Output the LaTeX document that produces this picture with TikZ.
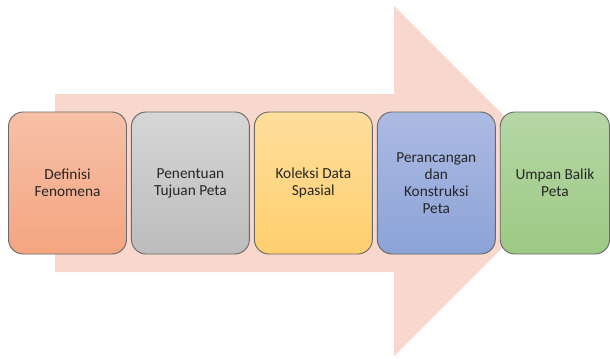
\documentclass[tikz,border=0pt]{standalone}
\usepackage{fontspec}
\setmainfont{Carlito}
\usetikzlibrary{positioning}

\definecolor{arrowpink}{RGB}{248,215,205}
\definecolor{boxline}{RGB}{105,105,105}
\definecolor{orangetop}{RGB}{247,192,168}
\definecolor{orangebot}{RGB}{244,165,128}
\definecolor{graytop}{RGB}{214,214,214}
\definecolor{graybot}{RGB}{188,188,188}
\definecolor{yellowtop}{RGB}{255,222,156}
\definecolor{yellowbot}{RGB}{255,207,110}
\definecolor{bluetop}{RGB}{172,186,226}
\definecolor{bluebot}{RGB}{140,163,216}
\definecolor{greentop}{RGB}{182,215,166}
\definecolor{greenbot}{RGB}{156,201,131}

\tikzset{
	stage/.style={draw=boxline, line width=0.7pt, rounded corners=11pt,
		minimum width=88.5pt, minimum height=106.5pt, inner sep=2pt,
		align=center, text=black!85, font=\fontsize{11.5}{12.9}\selectfont},
}

\begin{document}
\begin{tikzpicture}[x=0.75pt,y=-0.75pt]
\useasboundingbox (0,0) rectangle (610,358);
% big arrow behind the stages
\fill[arrowpink] (55,94) -- (394,94) -- (394,6) -- (569,181) -- (394,356) -- (394,272) -- (55,272) -- cycle;

\node[stage, top color=orangetop, bottom color=orangebot] (definisi) at (67.5,183) {Definisi\\Fenomena};
\node[stage, top color=graytop, bottom color=graybot, right=3pt of definisi] (tujuan) {Penentuan\\Tujuan Peta};
\node[stage, top color=yellowtop, bottom color=yellowbot, right=3pt of tujuan] (koleksi) {Koleksi Data\\Spasial};
\node[stage, top color=bluetop, bottom color=bluebot, right=3pt of koleksi] (rancang) {Perancangan\\dan\\Konstruksi\\Peta};
\node[stage, top color=greentop, bottom color=greenbot, minimum width=82pt, right=3pt of rancang] (umpan) {Umpan Balik\\Peta};
\end{tikzpicture}
\end{document}
